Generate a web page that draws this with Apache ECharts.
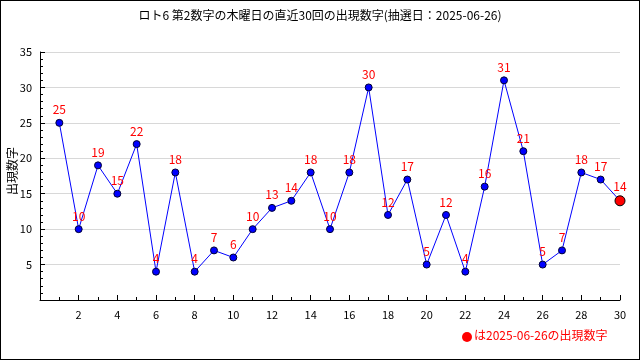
<!DOCTYPE html>
<html><head><meta charset="utf-8">
<script src="https://cdn.jsdelivr.net/npm/echarts@6/dist/echarts.min.js"></script>
<style>html,body{margin:0;padding:0;background:#fff}#c{width:640px;height:360px;box-sizing:border-box;border:1px solid #000}</style>
</head><body><div id="c"></div>
<script>
const titleText = 'ロト6 第2数字の木曜日の直近30回の出現数字(抽選日：2025-06-26)';
const yName = '出現数字';
const legendText = 'は2025-06-26の出現数字';
const draws = [1,2,3,4,5,6,7,8,9,10,11,12,13,14,15,16,17,18,19,20,21,22,23,24,25,26,27,28,29,30];
const values = [25,10,19,15,22,4,18,4,7,6,10,13,14,18,10,18,30,12,17,5,12,4,16,31,21,5,7,18,17,14];
const font = '"Noto Sans CJK JP", "DejaVu Sans", sans-serif';
const chart = echarts.init(document.getElementById('c'), null, {renderer:'canvas'});
const data = draws.map((d,i)=>{
  const last = i === draws.length-1;
  return last ? {value:[d,values[i]], symbolSize:10, itemStyle:{color:'#ff0000', borderColor:'#000', borderWidth:1}} : [d,values[i]];
});
chart.setOption({
  animation:false,
  title:{text:titleText, left:'center', top:3, textStyle:{fontFamily:font, fontSize:12, fontWeight:'normal', color:'#000'}},
  grid:{left:39, right:19, top:51, bottom:59, containLabel:false, outerBoundsMode:'none'},
  xAxis:{type:'value', min:0, max:30, interval:2,
    axisLine:{lineStyle:{color:'#000'}},
    axisTick:{inside:true, length:5, lineStyle:{color:'#000'}},
    minorTick:{show:true, splitNumber:2, length:3, lineStyle:{color:'#000'}},
    splitLine:{show:false},
    axisLabel:{color:'#000', fontSize:11, fontFamily:font, margin:9, formatter:v=> v===0?'':String(v)}},
  yAxis:{type:'value', min:0, max:35, interval:5,
    axisLine:{show:true, lineStyle:{color:'#000'}},
    axisTick:{inside:true, length:5, lineStyle:{color:'#000'}},
    minorTick:{show:true, splitNumber:5, length:3, lineStyle:{color:'#000'}},
    splitLine:{show:true, lineStyle:{color:'#d8d8d8'}},
    axisLabel:{color:'#000', fontSize:11, fontFamily:font, margin:8, formatter:v=> v===0?'':String(v)}},
  graphic:[
    {type:'text', x:5, y:194, rotation:Math.PI/2, style:{text:yName, fill:'#000', font:'12px '+font, textVerticalAlign:'top'}},
    {type:'circle', shape:{cx:466, cy:336, r:5}, style:{fill:'#ff0000'}},
    {type:'text', left:473, top:328, style:{text:legendText, fill:'#ff0000', font:'12px '+font}}
  ],
  series:[{type:'line', data:data, symbol:'circle', symbolSize:7,
    lineStyle:{color:'#0000ff', width:1},
    itemStyle:{color:'#0000ff', borderColor:'#000033', borderWidth:1},
    label:{show:true, position:'top', distance:3, color:'#ff0000', fontSize:12, fontFamily:font, formatter:p=>p.value[1]},
    z:3}]
});
</script></body></html>
